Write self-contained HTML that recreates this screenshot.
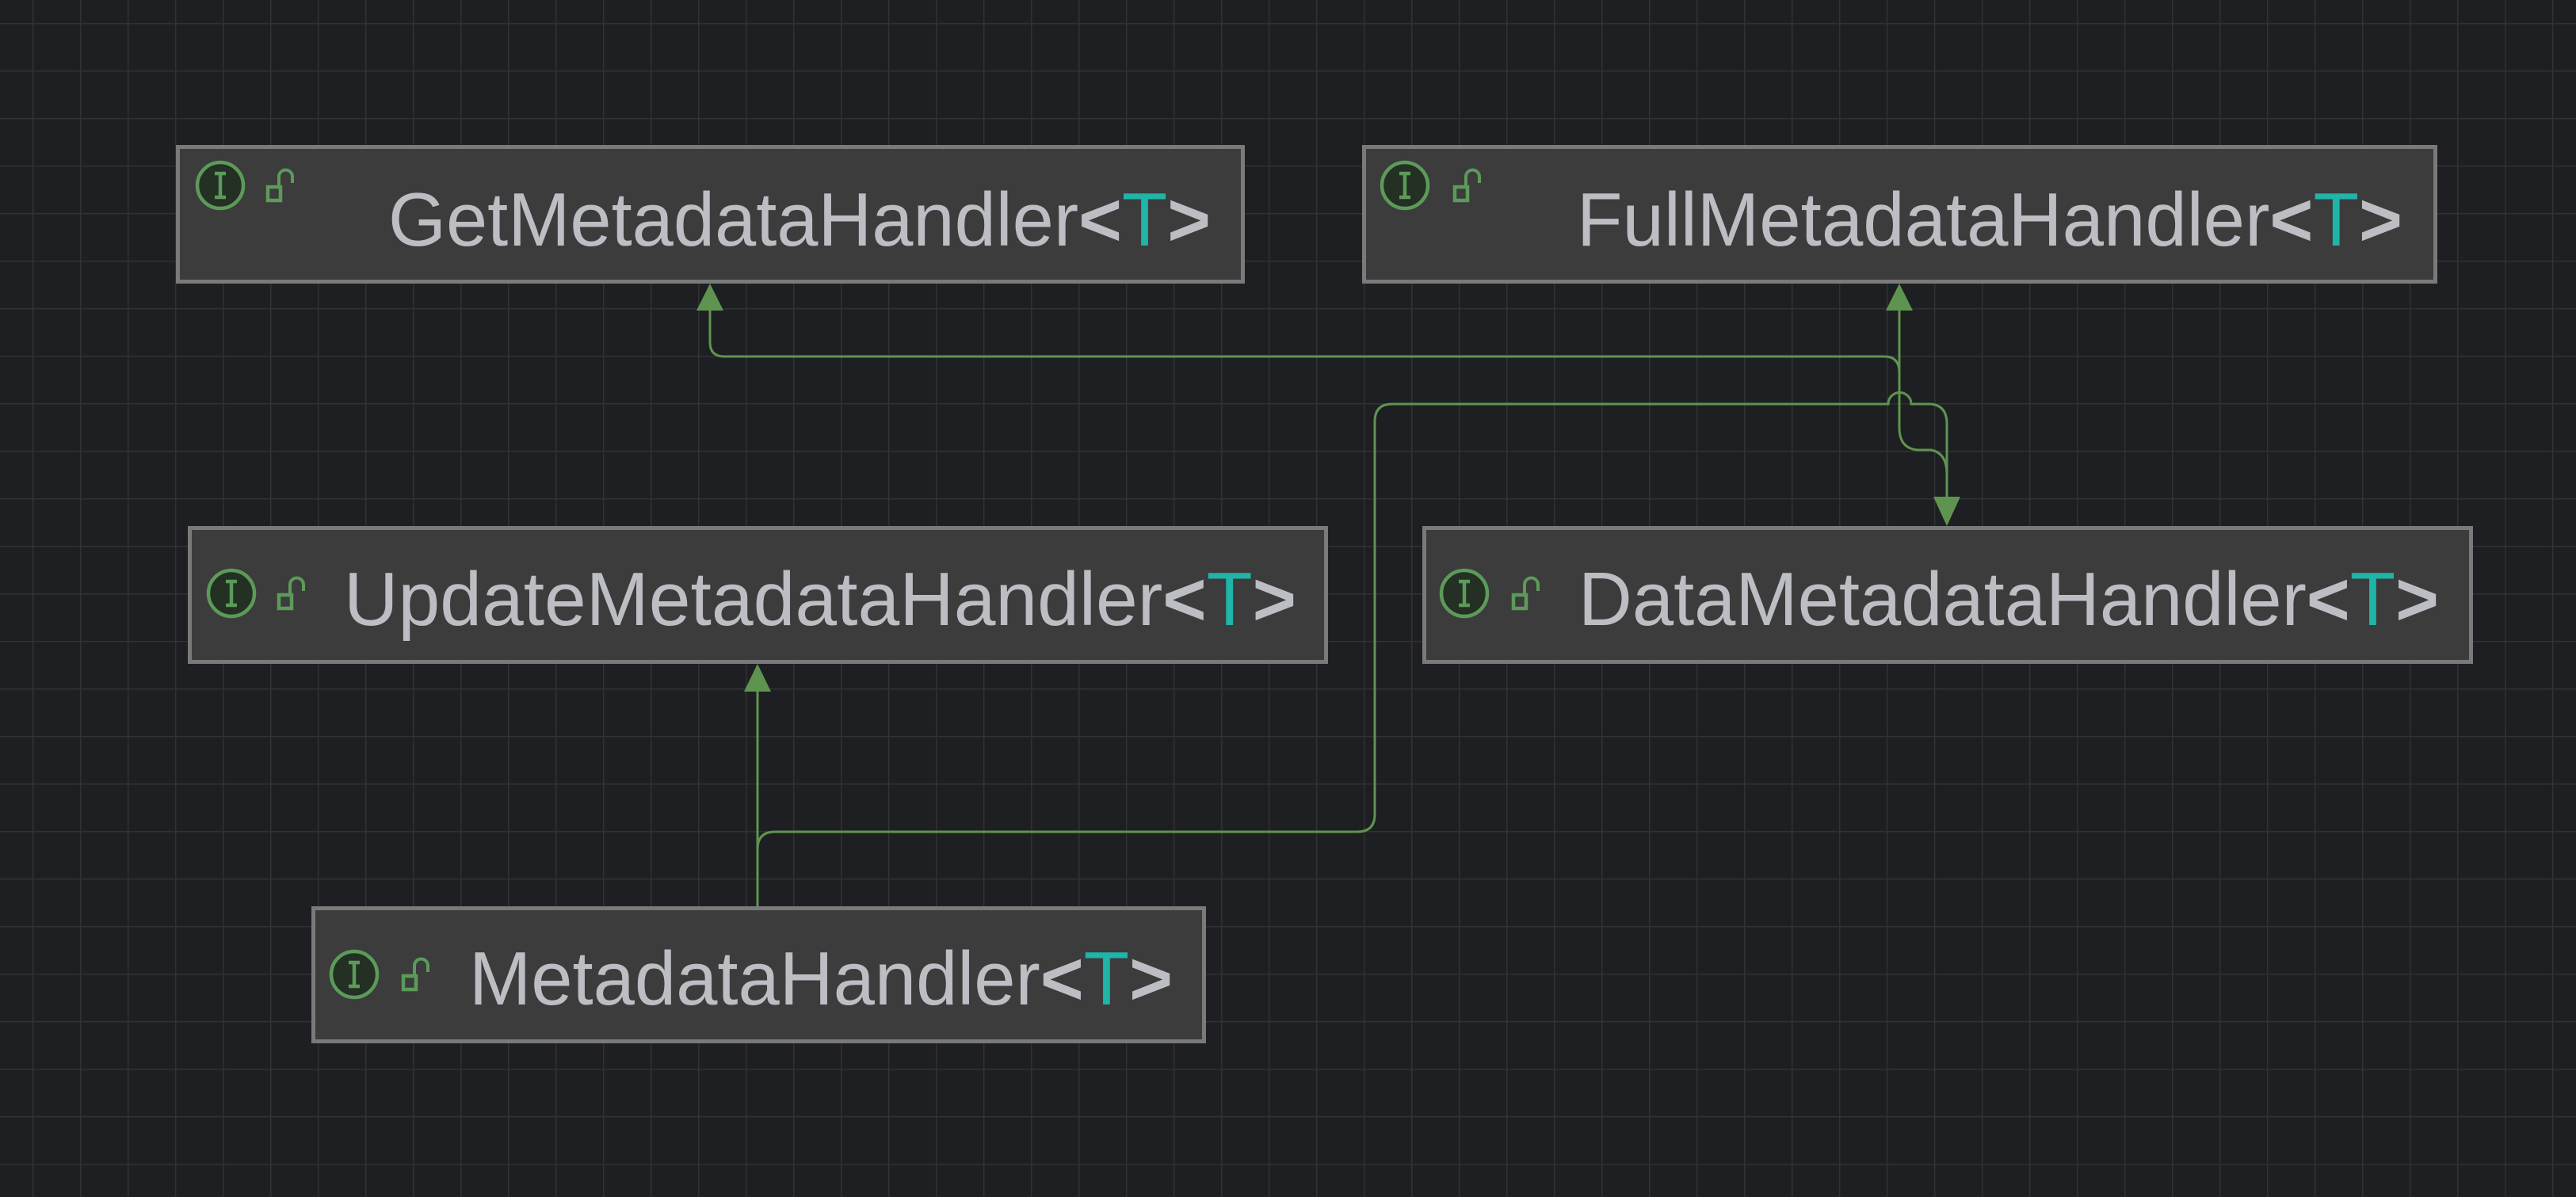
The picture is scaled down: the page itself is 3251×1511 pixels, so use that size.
<!DOCTYPE html>
<html><head><meta charset="utf-8"><style>
html,body{margin:0;padding:0;background:#1e1f22;}
svg{display:block}
text{font-family:"Liberation Sans",sans-serif;font-size:96px;fill:#bcbec4}
.b{font-weight:bold}
.t{fill:#1fb5a8}
</style></head><body>
<svg width="3251" height="1511" viewBox="0 0 3251 1511" xmlns="http://www.w3.org/2000/svg">
<defs>
<pattern id="g" x="41" y="29" width="60" height="60" patternUnits="userSpaceOnUse">
<path d="M0 0 H60 M0 0 V60" stroke="#313235" stroke-width="3" fill="none"/>
</pattern>
<g id="ic">
<circle cx="0" cy="0" r="29" fill="#233023" stroke="#5c9a5a" stroke-width="4.5"/>
<path d="M-7 -15 H7 M0 -15 V15 M-7 15 H7" stroke="#5c9a5a" stroke-width="4.5" fill="none"/>
</g>
<g id="lk">
<rect x="0" y="6" width="16" height="17" fill="none" stroke="#5c9a5a" stroke-width="4.5"/>
<path d="M14 6 V-7 a8.5 8.5 0 0 1 17 0 V1" fill="none" stroke="#5c9a5a" stroke-width="4"/>
</g>
</defs>
<rect width="3251" height="1511" fill="#1e1f22"/>
<rect width="3251" height="1511" fill="url(#g)"/>

<g fill="none" stroke="#5f9450" stroke-width="3">
<path d="M896 392 V432 Q896 450 914 450 H2378 Q2397 450 2397 470 V540 Q2397 566 2420 568 H2437 Q2457 572 2457 598 V630"/>
<path d="M2397 392 V470"/>
<path d="M956 1144 V1072 Q956 1050 978 1050 H1713 Q1735 1050 1735 1028 V532 Q1735 510 1757 510 H2383 A14.5 14.5 0 0 1 2412 510 H2437 Q2457 512 2457 535 V630"/>
<path d="M956 1144 V870"/>
</g>
<g fill="#5f9450">
<polygon points="896,358 879,392 913,392"/>
<polygon points="2397,358 2380,392 2414,392"/>
<polygon points="2457,664 2440,627 2474,627"/>
<polygon points="956,838 939,873 973,873"/>
</g>

<g fill="#3c3c3c" stroke="#7a7a7a" stroke-width="5">
<rect x="224.5" y="185.5" width="1344" height="170"/>
<rect x="1721.5" y="185.5" width="1352" height="170"/>
<rect x="239.5" y="666.5" width="1434" height="169"/>
<rect x="1797.5" y="666.5" width="1321" height="169"/>
<rect x="395.5" y="1146.5" width="1124" height="168"/>
</g>

<use href="#ic" x="278" y="234"/><use href="#lk" x="338" y="230"/>
<use href="#ic" x="1773" y="234"/><use href="#lk" x="1836" y="230"/>
<use href="#ic" x="292" y="749"/><use href="#lk" x="352" y="745"/>
<use href="#ic" x="1848" y="749"/><use href="#lk" x="1910" y="745"/>
<use href="#ic" x="447" y="1230"/><use href="#lk" x="509" y="1226"/>

<text x="490" y="310" textLength="1038" lengthAdjust="spacingAndGlyphs">GetMetadataHandler<tspan class="b">&lt;</tspan><tspan class="t">T</tspan><tspan class="b">&gt;</tspan></text>
<text x="1990" y="310" textLength="1042" lengthAdjust="spacingAndGlyphs">FullMetadataHandler<tspan class="b">&lt;</tspan><tspan class="t">T</tspan><tspan class="b">&gt;</tspan></text>
<text x="434" y="789" textLength="1202" lengthAdjust="spacingAndGlyphs">UpdateMetadataHandler<tspan class="b">&lt;</tspan><tspan class="t">T</tspan><tspan class="b">&gt;</tspan></text>
<text x="1992" y="789" textLength="1086" lengthAdjust="spacingAndGlyphs">DataMetadataHandler<tspan class="b">&lt;</tspan><tspan class="t">T</tspan><tspan class="b">&gt;</tspan></text>
<text x="592" y="1268" textLength="888" lengthAdjust="spacingAndGlyphs">MetadataHandler<tspan class="b">&lt;</tspan><tspan class="t">T</tspan><tspan class="b">&gt;</tspan></text>
</svg>
</body></html>
